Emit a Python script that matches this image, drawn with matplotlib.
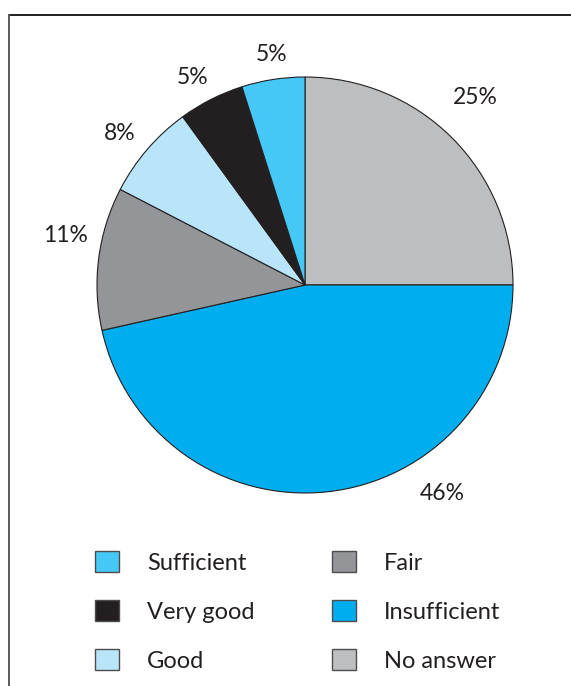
import matplotlib
matplotlib.use("Agg")
import matplotlib.pyplot as plt
from matplotlib.lines import Line2D
from matplotlib.patches import Patch

plt.rcParams['font.family'] = ['Lato', 'DejaVu Sans']

# slices, clockwise from 12 o'clock (shares)
labels = ["No answer", "Insufficient", "Fair", "Good", "Very good", "Sufficient"]
shares = [25, 46.5, 11.1, 7.4, 5.1, 4.9]
colors = ["#BCBEC0", "#00AEEF", "#939598", "#B9E5FB", "#231F20", "#45C8F5"]
pct_text = ["25%", "46%", "11%", "8%", "5%", "5%"]

# label spots in pie-radius units (placed by hand in the original)
pct_pos = [(0.82, 0.90), (0.66, -1.0), (-1.15, 0.24), (-0.89, 0.73), (-0.54, 1.0), (-0.16, 1.11)]

legend_order = ["Sufficient", "Very good", "Good", "Fair", "Insufficient", "No answer"]

W, H = 571, 686
fig = plt.figure(figsize=(W / 100, H / 100), dpi=100)

cx, cy, r = 305, 285, 208
ax = fig.add_axes([(cx - r) / W, (H - cy - r) / H, 2 * r / W, 2 * r / H])
ax.pie(shares, colors=colors, startangle=90, counterclock=False, radius=1,
       wedgeprops=dict(edgecolor="#231F20", linewidth=0.8))
ax.set_xlim(-1, 1)
ax.set_ylim(-1, 1)
ax.set_aspect("equal")
ax.axis("off")

for t, (x, y) in zip(pct_text, pct_pos):
    ax.text(x, y, t, ha="center", va="center", fontsize=16.5, color="#231F20")

# legend, column-wise
handles = []
for name in legend_order:
    i = labels.index(name)
    handles.append(Patch(facecolor=colors[i], edgecolor="#4d4d4f", linewidth=1.0, label=name))
fig.legend(handles=handles, ncol=2, loc="upper left",
           bbox_to_anchor=(95 / W, 1 - 551 / H), frameon=False, fontsize=17,
           borderpad=0, borderaxespad=0,
           handlelength=1.0, handleheight=1.0, handletextpad=1.2,
           columnspacing=3.3, labelspacing=1.12, labelcolor="#231F20")

# frame lines (top and left)
fig.add_artist(Line2D([9 / W, 1], [1 - 15 / H, 1 - 15 / H], color="#231F20", lw=1.4,
                      transform=fig.transFigure))
fig.add_artist(Line2D([9 / W, 9 / W], [0, 1 - 15 / H], color="#58595B", lw=1.4,
                      transform=fig.transFigure))

fig.savefig("out.png", dpi=100)
